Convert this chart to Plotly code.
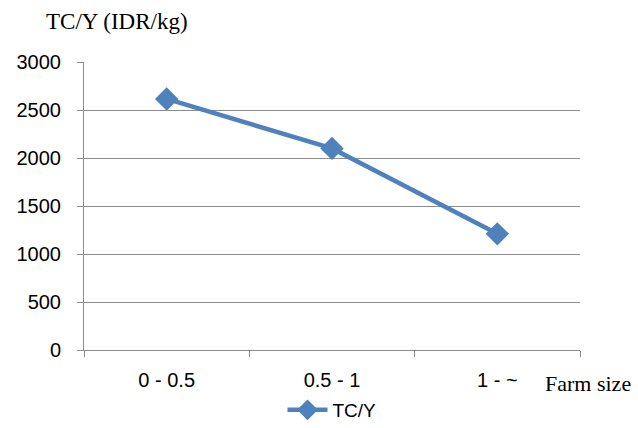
import plotly.graph_objects as go

categories = ["0 - 0.5", "0.5 - 1", "1 - ~"]
tc_y = [2615, 2100, 1210]
y_ticks = [0, 500, 1000, 1500, 2000, 2500, 3000]

blue = "#4F81BD"
grid = "#8C8C8C"

fig = go.Figure()
fig.add_trace(go.Scatter(
    x=categories, y=tc_y, mode="lines+markers", name="TC/Y",
    line=dict(color=blue, width=4.5),
    marker=dict(symbol="diamond", size=18, color=blue),
))

fig.update_layout(
    width=638, height=428,
    margin=dict(l=84, r=58, t=62, b=78, autoexpand=False),
    paper_bgcolor="white", plot_bgcolor="white",
    font=dict(family="Liberation Sans, Arial, sans-serif", size=20, color="#000000"),
    showlegend=True,
    legend=dict(orientation="h", x=0.5, xanchor="center", yref="container",
                y=0.042, yanchor="middle", font=dict(size=19), itemwidth=40),
    xaxis=dict(
        type="category", range=[-0.5, 2.5], tickson="boundaries",
        ticks="outside", ticklen=6, tickcolor=grid,
        showline=True, linecolor=grid, linewidth=1,
        showgrid=False, tickfont=dict(size=20), automargin=False,
        ticklabelstandoff=12,
    ),
    yaxis=dict(
        range=[0, 3000], tickvals=y_ticks, ticks="outside", ticklen=6, tickcolor=grid,
        showline=True, linecolor=grid, linewidth=1,
        showgrid=True, gridcolor=grid, gridwidth=1, zeroline=False,
        tickfont=dict(size=20), automargin=False, ticklabelstandoff=12,
    ),
    annotations=[
        dict(text="TC/Y (IDR/kg)", xref="paper", yref="paper", x=-0.08, y=1.139,
             xanchor="left", yanchor="middle", showarrow=False,
             font=dict(family="Liberation Serif, Times New Roman, serif", size=23)),
        dict(text="Farm size", xref="paper", yref="paper", x=0.925, y=-0.115,
             xanchor="left", yanchor="middle", showarrow=False,
             font=dict(family="Liberation Serif, Times New Roman, serif", size=22)),
    ],
)

fig.write_html("out.html")
